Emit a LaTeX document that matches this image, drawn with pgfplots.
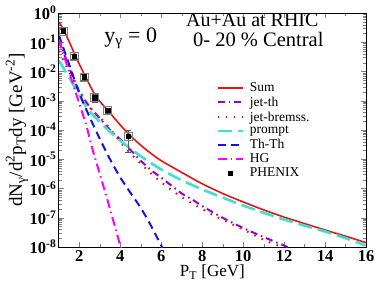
\documentclass[border=0pt]{standalone}
\usepackage{fontspec}
\setmainfont{Liberation Serif}
\usepackage{pgfplots}
\usetikzlibrary{calc}
\pgfplotsset{compat=1.18}
\pgfplotsset{phenixlegend/.style={legend image code/.code={\draw[##1] plot coordinates {(12.5bp,0bp)};}}}
\definecolor{sumred}{RGB}{232,20,20}
\definecolor{jetth}{RGB}{148,0,211}
\definecolor{prompt}{RGB}{64,224,208}
\definecolor{thth}{RGB}{20,20,230}
\definecolor{hg}{RGB}{255,0,255}
\begin{document}
\begin{tikzpicture}
\begin{axis}[name=ax, at={(0,0)}, anchor=south west,
  scale only axis, width=307.2bp, height=234bp,
  ymode=log, xmin=1, xmax=16, ymin=1e-8, ymax=1,
  xtick={2,4,6,8,10,12,14,16}, xticklabels={2,4,6,8,10,12,14,16},
  minor x tick num=1,
  ytick={1e-8,1e-7,1e-6,1e-5,1e-4,1e-3,1e-2,1e-1,1},
  yticklabels={10\textsuperscript{-8},10\textsuperscript{-7},10\textsuperscript{-6},10\textsuperscript{-5},10\textsuperscript{-4},10\textsuperscript{-3},10\textsuperscript{-2},10\textsuperscript{-1},10\textsuperscript{0}},
  tick label style={font=\bfseries\fontsize{16.5bp}{18bp}\selectfont},
  yticklabel style={xshift=1bp},
  axis line style={line width=0.7pt},
  major tick length=5bp, minor tick length=3bp,
  xlabel={P\textsubscript{T} [GeV]},
  xlabel style={font=\fontsize{17bp}{20bp}\selectfont, at={(axis description cs:0.5,-0.107)}, anchor=center},
  ylabel={dN\textsubscript{γ}/d\textsuperscript{2}p\textsubscript{T}dy [GeV\textsuperscript{-2}]},
  ylabel style={font=\fontsize{19bp}{22bp}\selectfont, at={(axis description cs:-0.136,0.5)}, anchor=center},
  legend style={draw=none, fill=none, at={(0.512,0.711)}, anchor=north west,
    font=\fontsize{13.5bp}{14bp}\selectfont, row sep=-0.2bp, inner sep=0pt,
    /tikz/every odd column/.append style={column sep=4bp}},
  legend cell align=left,
  legend image code/.code={\draw[#1] (0bp,0bp) -- (25bp,0bp);},
]
\addplot[sumred, line width=1.6pt, smooth, tension=0.4] coordinates {
(1,5.01e-1)(1.25,2.51e-1)(1.5,1.07e-1)(1.75,4.27e-2)(2,1.78e-2)(2.25,7.94e-3)(2.5,3.55e-3)(2.75,1.66e-3)(3,9.55e-4)(3.5,3.80e-4)(4,1.48e-4)(4.5,6.31e-5)(5,3.02e-5)(5.5,1.58e-5)(6,8.91e-6)(7,3.55e-6)(8,1.45e-6)(9,6.76e-7)(10,3.47e-7)(11,1.86e-7)(12,1.05e-7)(13,6.31e-8)(14,3.80e-8)(15,2.34e-8)(16,1.41e-8)};
\addlegendentry{Sum}
\addplot[jetth, line width=2pt, dash pattern=on 7bp off 4bp on 1.5bp off 4bp, smooth, tension=0.4] coordinates {
(1,1.26e-1)(1.5,1.41e-2)(2,2.00e-3)(2.5,6.31e-4)(3,2.51e-4)(3.5,1.0e-4)(4,4.79e-5)(4.5,2.09e-5)(5,8.91e-6)(5.5,4.27e-6)(6,2.34e-6)(6.5,1.26e-6)(7,6.76e-7)(7.5,4.27e-7)(8,2.51e-7)(9,1.0e-7)(10,4.47e-8)(11,2.19e-8)(12,1.12e-8)(12.3,0.9e-8)};
\addlegendentry{jet-th}
\addplot[sumred, line width=2pt, dash pattern=on 1.6bp off 6.5bp, smooth, tension=0.4] coordinates {
(1,5.01e-2)(1.5,1.0e-2)(2,2.24e-3)(2.6,4.90e-4)(3.26,1.78e-4)(4.07,3.39e-5)(4.88,8.51e-6)(5.7,2.45e-6)(6.59,7.94e-7)(7.49,3.16e-7)(8.79,1.0e-7)(10,3.98e-8)(11.15,1.58e-8)(12,9.55e-9)};
\addlegendentry{jet-bremss.}
\addplot[prompt, line width=2.6pt, dash pattern=on 14bp off 6bp, smooth, tension=0.4] coordinates {
(1,2.40e-2)(1.5,6.31e-3)(2,1.58e-3)(2.44,4.90e-4)(3,1.91e-4)(3.5,8.71e-5)(4.15,3.55e-5)(5,1.26e-5)(6,4.47e-6)(7,1.91e-6)(8,9.33e-7)(9,4.90e-7)(10,2.63e-7)(11,1.48e-7)(12,8.71e-8)(13,5.37e-8)(14,3.39e-8)(15,2.0e-8)(16,1.12e-8)};
\addlegendentry{prompt}
\addplot[thth, line width=2pt, dash pattern=on 8bp off 5bp, smooth, tension=0.4] coordinates {
(1,1.78e-1)(1.5,1.78e-2)(2,1.82e-3)(2.5,2.82e-4)(3,5.01e-5)(3.5,1.0e-5)(4,2.40e-6)(4.5,7.08e-7)(5,2.19e-7)(5.5,5.37e-8)(6,1.12e-8)(6.1,0.8e-8)};
\addlegendentry{Th-Th}
\addplot[hg, line width=2pt, dash pattern=on 9bp off 4bp on 1.5bp off 4bp, smooth, tension=0.4] coordinates {
(1,1.20e-1)(1.5,1.0e-2)(2,7.94e-4)(2.36,1.32e-4)(2.6,2.82e-5)(3,3.16e-6)(3.42,3.16e-7)(3.7,6.31e-8)(4.0,1.12e-8)(4.05,0.8e-8)};
\addlegendentry{HG}
\addplot[gray, only marks, mark=square, mark size=4bp, mark options={line width=0.5pt}, forget plot] coordinates {
(1.22,0.245)(1.74,0.033)(2.23,0.0066)(2.75,0.00127)(3.38,0.00047)(4.39,6.0e-5)};
\addplot[black, only marks, mark=square*, mark size=2.2bp, phenixlegend,
  error bars/.cd, y dir=both, y explicit, error bar style={line width=0.6pt, gray!70!black}, error mark options={rotate=90, mark size=3bp, gray!70!black}]
  coordinates {
(1.22,0.245) +- (0,0.04)
(1.74,0.033) +- (0,0.006)
(2.23,0.0066) +- (0,0.0016)
(2.75,0.00127) +- (0,0.00035)
(3.38,0.00047) +- (0,0.00008)
(4.39,6.0e-5) += (0,3.5e-5) -= (0,4.3e-5)};
\addlegendentry{PHENIX}
\node[anchor=base west, font=\fontsize{22bp}{26bp}\selectfont] at (rel axis cs:0.137,0.873) {y\textsubscript{γ} = 0};
\node[anchor=base west, font=\fontsize{20bp}{24bp}\selectfont] at (rel axis cs:0.403,0.941) {Au+Au at RHIC};
\node[anchor=base west, font=\fontsize{20.5bp}{24bp}\selectfont] at (rel axis cs:0.426,0.856) {0- 20 \% Central};
\end{axis}
\pgfresetboundingbox
\path[use as bounding box] ($(ax.south west)+(-58.8bp,-46bp)$) rectangle ($(ax.north east)+(16bp,13bp)$);
\end{tikzpicture}
\end{document}
